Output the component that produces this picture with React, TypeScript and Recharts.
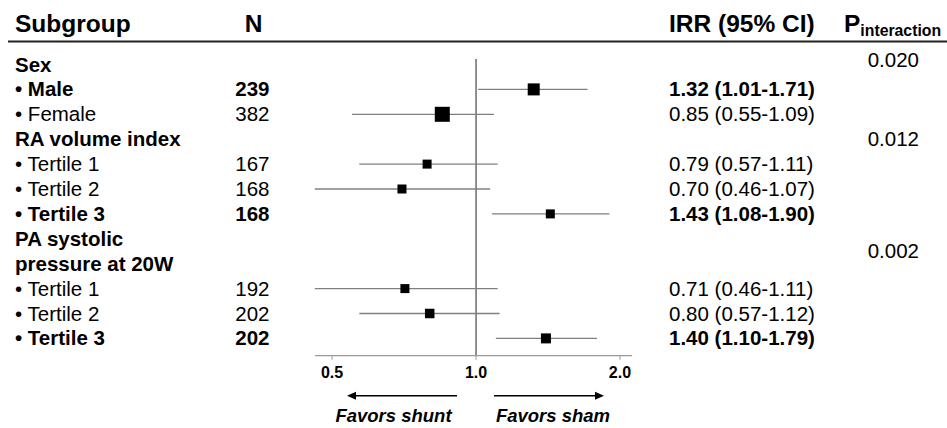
import React from 'react';
import { ScatterChart, Scatter, XAxis, YAxis, ErrorBar, ReferenceLine, Customized } from 'recharts';

// ---- data ----
const subgroupLabels = [
  'Sex', '• Male', '• Female', 'RA volume index', '• Tertile 1', '• Tertile 2', '• Tertile 3',
  'PA systolic', 'pressure at 20W', '• Tertile 1', '• Tertile 2', '• Tertile 3',
];
const boldRows = [true, true, false, true, false, false, true, true, true, false, false, true];
const nValues = ['', '239', '382', '', '167', '168', '168', '', '', '192', '202', '202'];
const irrEstimates = [null, 1.32, 0.85, null, 0.79, 0.70, 1.43, null, null, 0.71, 0.80, 1.40];
const ciLower = [null, 1.01, 0.55, null, 0.57, 0.46, 1.08, null, null, 0.46, 0.57, 1.10];
const ciUpper = [null, 1.71, 1.09, null, 1.11, 1.07, 1.90, null, null, 1.11, 1.12, 1.79];
const markerWeights = [0, 12, 15, 0, 9, 9, 9, 0, 0, 9, 9.5, 10];
const pValues = ['0.020', '0.012', '0.002'];
const pValueRows = [-0.18, 3, 7.5];
const xTicks = [0.5, 1, 2];
const xTickLabels = ['0.5', '1.0', '2.0'];
const directionLabels = ['Favors shunt', 'Favors sham'];

// ---- derived table for the library ----
const forestData = irrEstimates
  .map((est, i) =>
    est == null
      ? null
      : {
          y: i,
          x: est,
          err: [est - (ciLower[i] as number), (ciUpper[i] as number) - est],
          size: markerWeights[i],
        }
  )
  .filter(Boolean) as { y: number; x: number; err: number[]; size: number }[];

const W = 947;
const H = 428;
const FONT = '"Liberation Sans", Arial, Helvetica, sans-serif';
const ROW0 = 64.5;
const ROWH = 24.9;
const rowY = (i: number) => ROW0 + ROWH * i;
const X_AXIS_H = 30;

const Square = (props: any) => {
  const { cx, cy, payload } = props;
  const s = payload.size;
  return <rect x={cx - s / 2} y={cy - s / 2} width={s} height={s} fill="#000" />;
};

const XTick = (props: any) => {
  const { x, y, payload, index } = props;
  return (
    <text
      x={x}
      y={y + 16}
      textAnchor="middle"
      style={{ fontFamily: FONT, fontWeight: 'bold', fontSize: '16px', fill: '#000' }}
    >
      {xTickLabels[index] ?? String(payload.value)}
    </text>
  );
};

const TableText = () => {
  const fmt = (v: number) => v.toFixed(2);
  return (
    <g fontFamily={FONT} fill="#000">
      {/* header */}
      <text x={15} y={32} fontSize={24.5} fontWeight="bold">Subgroup</text>
      <text x={253.5} y={32} fontSize={24.5} fontWeight="bold" textAnchor="middle">N</text>
      <text x={669} y={32} fontSize={24.5} fontWeight="bold">IRR (95% CI)</text>
      <text x={844} y={32} fontSize={24.5} fontWeight="bold">
        P
        <tspan fontSize={15.8} dy={4}>interaction</tspan>
      </text>
      <line x1={8} x2={947} y1={41.5} y2={41.5} stroke="#222" strokeWidth={2} />

      {subgroupLabels.map((lab, i) => (
        <text key={'l' + i} x={15} y={rowY(i) + 7} fontSize={20.5} fontWeight={boldRows[i] ? 'bold' : 'normal'}>
          {lab}
        </text>
      ))}
      {nValues.map((n, i) =>
        n ? (
          <text key={'n' + i} x={269.5} y={rowY(i) + 7} fontSize={20.5} textAnchor="end" fontWeight={boldRows[i] ? 'bold' : 'normal'}>
            {n}
          </text>
        ) : null
      )}
      {irrEstimates.map((e, i) =>
        e != null ? (
          <text key={'r' + i} x={669} y={rowY(i) + 7} fontSize={20.5} fontWeight={boldRows[i] ? 'bold' : 'normal'}>
            {`${fmt(e)} (${fmt(ciLower[i] as number)}-${fmt(ciUpper[i] as number)})`}
          </text>
        ) : null
      )}
      {pValues.map((p, k) => (
        <text key={'p' + k} x={919} y={rowY(pValueRows[k]) + 7} fontSize={20.5} textAnchor="end">
          {p}
        </text>
      ))}

      {/* direction arrows */}
      <line x1={355} x2={457} y1={395.7} y2={395.7} stroke="#000" strokeWidth={1.5} />
      <polygon points="347,395.7 356,391.7 356,399.7" fill="#000" />
      <line x1={494} x2={596} y1={395.7} y2={395.7} stroke="#000" strokeWidth={1.5} />
      <polygon points="604,395.7 595,391.7 595,399.7" fill="#000" />
      <text x={393.5} y={422} fontSize={18.5} fontWeight="bold" fontStyle="italic" textAnchor="middle">
        {directionLabels[0]}
      </text>
      <text x={553} y={422} fontSize={18.5} fontWeight="bold" fontStyle="italic" textAnchor="middle">
        {directionLabels[1]}
      </text>
    </g>
  );
};

export default function App() {
  return (
    <div style={{ position: 'absolute', left: 0, top: 0, width: W, height: H, background: '#fff' }}>
      <ScatterChart width={W} height={H} margin={{ top: 59, bottom: 72.3 - X_AXIS_H, left: 315, right: 315 }}>
        <XAxis
          type="number"
          dataKey="x"
          scale="log"
          domain={[0.4605, 2.119]}
          allowDataOverflow
          ticks={xTicks}
          interval={0}
          height={X_AXIS_H}
          tick={<XTick />}
          tickSize={4}
          axisLine={{ stroke: '#999', strokeWidth: 1.2 }}
          tickLine={{ stroke: '#999' }}
        />
        <YAxis type="number" dataKey="y" domain={[-0.221, 11.695]} reversed hide width={0} allowDataOverflow />
        <ReferenceLine x={1} stroke="#555" strokeWidth={1.3} ifOverflow="visible" />
        <Scatter data={forestData} shape={<Square />} isAnimationActive={false}>
          <ErrorBar dataKey="err" direction="x" width={0} stroke="#808080" strokeWidth={1.3} isAnimationActive={false} />
        </Scatter>
        <Customized component={<TableText />} />
      </ScatterChart>
    </div>
  );
}
